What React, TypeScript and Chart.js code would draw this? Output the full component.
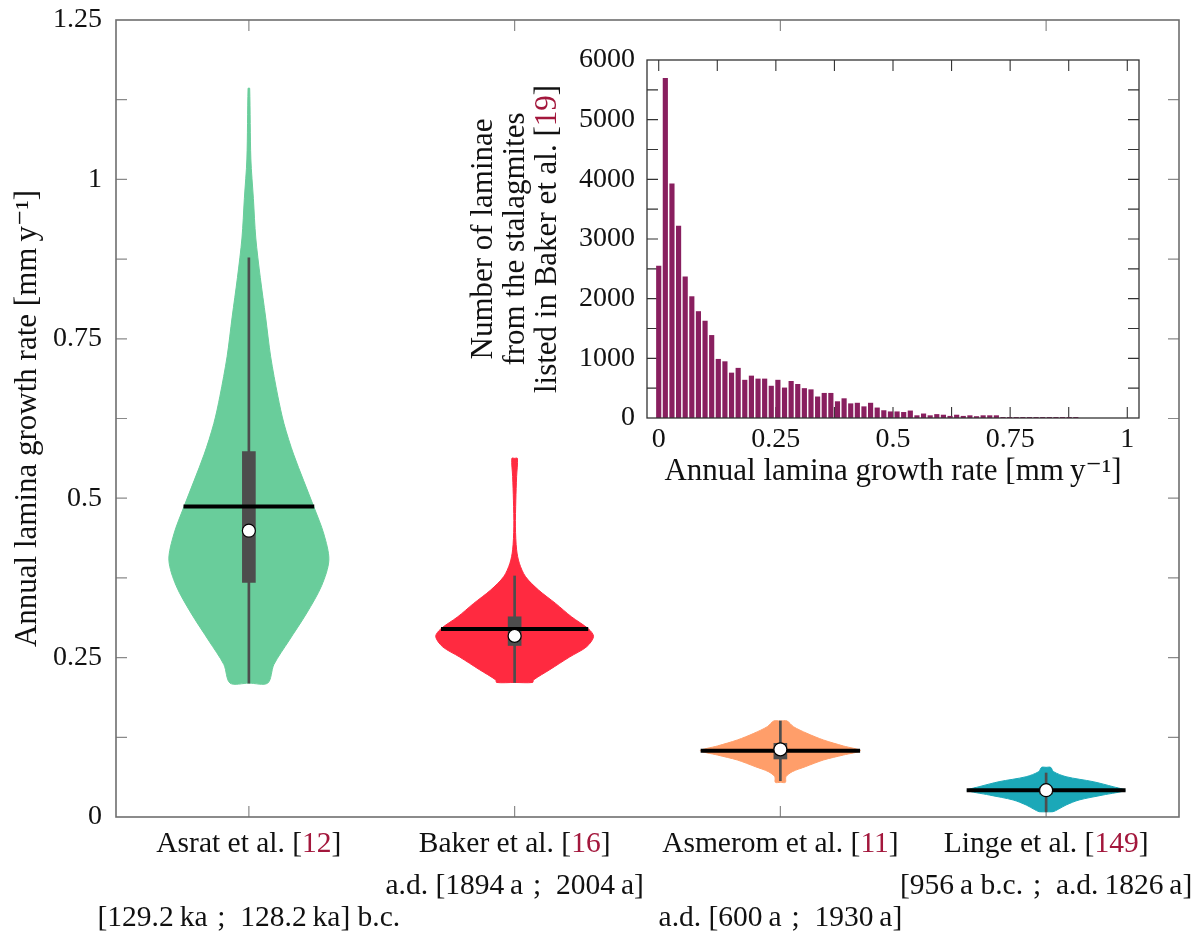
import React, { useEffect, useRef } from 'react';
import { Chart, registerables } from 'chart.js';

Chart.register(...registerables);

const FONT_FAMILY = '"Liberation Serif", "Times New Roman", "DejaVu Serif", serif';
const TICK_FONT_SIZE = 28;
const LABEL_FONT_SIZE = 29.5;
const TITLE_FONT_SIZE = 31;
const TEXT_COLOR = '#111111';
const REF_COLOR = '#a3173c';

// ---------- main chart: categories ----------
const categoryPositions = [1, 2, 3, 4];
const categoryNames = ['Asrat et al.', 'Baker et al.', 'Asmerom et al.', 'Linge et al.'];
const referenceNumbers = ['12', '16', '11', '149'];
const periodLabels = [
  '[129.2\u2009ka\u2004;\u2002128.2\u2009ka] b.c.',
  'a.d. [1894\u2009a\u2004;\u20022004\u2009a]',
  'a.d. [600\u2009a\u2004;\u20021930\u2009a]',
  '[956\u2009a b.c.\u2004;\u2002a.d.\u20091826\u2009a]',
];
const periodRows = [2, 1, 2, 1];
const violinColors = ['#69cd9b', '#ff2a40', '#ff9e6a', '#1ba8b8'];
const yTickLabels = ['0', '0.25', '0.5', '0.75', '1', '1.25'];
const yTitle = 'Annual lamina growth rate [mm\u2009y\u207B\u00B9]';

// ---------- violin profiles (value, half width in category units) ----------
const asratValues = [1.143, 1.032, 0.970, 0.908, 0.846, 0.784, 0.722, 0.660, 0.617, 0.568, 0.487, 0.444, 0.403, 0.363, 0.320, 0.276, 0.239, 0.210];
const asratHalfWidths = [0.003, 0.0075, 0.017, 0.026, 0.043, 0.063, 0.082, 0.109, 0.132, 0.169, 0.244, 0.282, 0.301, 0.274, 0.218, 0.150, 0.094, 0.071];

const bakerValues = [0.5625, 0.534, 0.497, 0.455, 0.419, 0.398, 0.377, 0.356, 0.335, 0.314, 0.295, 0.283, 0.267, 0.251, 0.231, 0.215, 0.211];
const bakerHalfWidths = [0.0105, 0.0075, 0.0045, 0.003, 0.0075, 0.0177, 0.041, 0.090, 0.154, 0.214, 0.278, 0.297, 0.271, 0.207, 0.132, 0.071, 0.068];

const asmeromValues = [0.1506, 0.1417, 0.1312, 0.1208, 0.1114, 0.1040, 0.0972, 0.0894, 0.0789, 0.0711, 0.0632, 0.0544];
const asmeromHalfWidths = [0.025, 0.049, 0.100, 0.162, 0.237, 0.301, 0.237, 0.162, 0.094, 0.045, 0.021, 0.019];

const lingeValues = [0.0779, 0.0711, 0.0632, 0.0554, 0.0475, 0.0418, 0.0345, 0.0267, 0.0188, 0.0120, 0.0083];
const lingeHalfWidths = [0.017, 0.028, 0.075, 0.177, 0.252, 0.297, 0.214, 0.124, 0.075, 0.045, 0.026];

// ---------- summary statistics ----------
const medians = [0.449, 0.284, 0.106, 0.042];
const means = [0.487, 0.295, 0.104, 0.042];
const meanHalfWidths = [0.246, 0.277, 0.300, 0.299];
const boxLow = [0.368, 0.269, 0.091, 0.036];
const boxHigh = [0.573, 0.314, 0.1155, 0.047];
const whiskerLow = [0.210, 0.211, 0.057, 0.008];
const whiskerHigh = [0.877, 0.378, 0.1506, 0.069];

// ---------- inset histogram ----------
const histBinWidth = 0.01413;
const histCounts = [
  2550, 5700, 3930, 3220, 2370, 2040, 1790, 1630, 1390, 990,
  950, 760, 840, 640, 710, 660, 660, 540, 640, 510,
  620, 570, 500, 480, 360, 420, 420, 280, 330, 245,
  255, 195, 255, 175, 130, 110, 110, 100, 125, 45,
  75, 45, 65, 55, 35, 55, 35, 45, 30, 45,
  45, 45, 15, 15, 10, 10, 10, 6, 6, 3,
  10, 3, 10, 10,
];
const histColor = '#891f5f';
const insetXTickLabels = ['0', '0.25', '0.5', '0.75', '1'];
const insetYTitleLines = ['Number of laminae', 'from the stalagmites', 'listed in Baker et al. ['];
const insetYTitleRef = '19';
const insetXTitle = 'Annual lamina growth rate [mm\u2009y\u207B\u00B9]';

const violinValueSets = [asratValues, bakerValues, asmeromValues, lingeValues];
const violinWidthSets = [asratHalfWidths, bakerHalfWidths, asmeromHalfWidths, lingeHalfWidths];

function violinOutline(center: number, vals: number[], widths: number[]) {
  const right = vals.map((v, k) => ({ x: center + widths[k], y: v }));
  const left = vals.map((v, k) => ({ x: center - widths[k], y: v })).reverse();
  return [
    { x: center, y: vals[0] },
    ...right,
    { x: center, y: vals[vals.length - 1] },
    ...left,
    { x: center, y: vals[0] },
  ];
}

function drawRich(ctx: CanvasRenderingContext2D, parts: [string, string][], cx: number, cy: number) {
  const widths = parts.map((p) => ctx.measureText(p[0]).width);
  const total = widths.reduce((a, b) => a + b, 0);
  let x = cx - total / 2;
  ctx.textAlign = 'left';
  ctx.textBaseline = 'middle';
  parts.forEach((p, i) => {
    ctx.fillStyle = p[1];
    ctx.fillText(p[0], x, cy);
    x += widths[i];
  });
}

function isMultiple(v: number, step: number) {
  return Math.abs(v / step - Math.round(v / step)) < 1e-6;
}

function makeFramePlugin(id: string, cfg: any) {
  return {
    id,
    beforeDatasetsDraw(chart: any) {
      const { ctx, chartArea: a } = chart;
      const xs = chart.scales.x;
      const ys = chart.scales.y;
      const L = cfg.tickLength;
      ctx.save();
      ctx.beginPath();
      ctx.strokeStyle = cfg.tickColor;
      ctx.lineWidth = cfg.tickWidth;
      xs.ticks.forEach((t: any) => {
        if (t.value <= xs.min + 1e-9 || t.value >= xs.max - 1e-9) return;
        const p = xs.getPixelForValue(t.value);
        ctx.moveTo(p, a.top);
        ctx.lineTo(p, a.top + L);
        ctx.moveTo(p, a.bottom);
        ctx.lineTo(p, a.bottom - L);
      });
      ys.ticks.forEach((t: any) => {
        if (t.value <= ys.min + 1e-9 || t.value >= ys.max - 1e-9) return;
        const p = ys.getPixelForValue(t.value);
        ctx.moveTo(a.left, p);
        ctx.lineTo(a.left + L, p);
        ctx.moveTo(a.right, p);
        ctx.lineTo(a.right - L, p);
      });
      ctx.stroke();
      ctx.restore();
    },
    afterDatasetsDraw(chart: any) {
      const { ctx, chartArea: a } = chart;
      ctx.save();
      ctx.strokeStyle = cfg.frameColor;
      ctx.lineWidth = cfg.frameWidth;
      ctx.strokeRect(a.left, a.top, a.right - a.left, a.bottom - a.top);
      ctx.restore();
    },
  };
}

const mainTextPlugin = {
  id: 'mainText',
  afterDraw(chart: any) {
    const { ctx, chartArea: a } = chart;
    const xs = chart.scales.x;
    ctx.save();
    ctx.font = `${LABEL_FONT_SIZE}px ${FONT_FAMILY}`;
    categoryNames.forEach((name, i) => {
      const cx = xs.getPixelForValue(categoryPositions[i]);
      drawRich(ctx, [[name + ' [', TEXT_COLOR], [referenceNumbers[i], REF_COLOR], [']', TEXT_COLOR]], cx, a.bottom + 27);
      drawRich(ctx, [[periodLabels[i], TEXT_COLOR]], cx, a.bottom + (periodRows[i] === 1 ? 69 : 101));
    });
    ctx.font = `${TITLE_FONT_SIZE}px ${FONT_FAMILY}`;
    ctx.translate(a.left - 88, (a.top + a.bottom) / 2);
    ctx.rotate(-Math.PI / 2);
    drawRich(ctx, [[yTitle, TEXT_COLOR]], 0, 0);
    ctx.restore();
  },
};

const insetTextPlugin = {
  id: 'insetText',
  afterDraw(chart: any) {
    const { ctx, chartArea: a } = chart;
    ctx.save();
    ctx.font = `${TITLE_FONT_SIZE}px ${FONT_FAMILY}`;
    drawRich(ctx, [[insetXTitle, TEXT_COLOR]], (a.left + a.right) / 2, a.bottom + 54);
    const cy = (a.top + a.bottom) / 2;
    const offsets = [-163, -131, -99];
    insetYTitleLines.forEach((line, i) => {
      ctx.save();
      ctx.translate(a.left + offsets[i], cy);
      ctx.rotate(-Math.PI / 2);
      const parts: [string, string][] = i === insetYTitleLines.length - 1
        ? [[line, TEXT_COLOR], [insetYTitleRef, REF_COLOR], [']', TEXT_COLOR]]
        : [[line, TEXT_COLOR]];
      drawRich(ctx, parts, 0, 0);
      ctx.restore();
    });
    ctx.restore();
  },
};

function buildMainConfig(): any {
  const datasets: any[] = [];
  violinValueSets.forEach((vals, i) => {
    datasets.push({
      type: 'line',
      data: violinOutline(categoryPositions[i], vals, violinWidthSets[i]),
      backgroundColor: violinColors[i],
      borderColor: violinColors[i],
      borderWidth: 1,
      pointRadius: 0,
      fill: 'shape',
      tension: 0.3,
      order: 50,
    });
  });
  datasets.push({
    type: 'bar',
    data: whiskerLow.map((lo, i) => ({ x: categoryPositions[i], y: [lo, whiskerHigh[i]] })),
    backgroundColor: '#4d4d4d',
    barThickness: 2,
    grouped: false,
    order: 40,
  });
  datasets.push({
    type: 'bar',
    data: boxLow.map((lo, i) => ({ x: categoryPositions[i], y: [lo, boxHigh[i]] })),
    backgroundColor: '#4d4d4d',
    barThickness: 13,
    grouped: false,
    order: 30,
  });
  means.forEach((m, i) => {
    datasets.push({
      type: 'line',
      data: [{ x: categoryPositions[i] - meanHalfWidths[i], y: m }, { x: categoryPositions[i] + meanHalfWidths[i], y: m }],
      borderColor: '#000000',
      borderWidth: 4,
      pointRadius: 0,
      fill: false,
      order: 20,
    });
  });
  datasets.push({
    type: 'line',
    data: medians.map((m, i) => ({ x: categoryPositions[i], y: m })),
    showLine: false,
    pointRadius: 6.5,
    pointBackgroundColor: '#ffffff',
    pointBorderColor: '#000000',
    pointBorderWidth: 1.2,
    order: 10,
  });

  return {
    type: 'line',
    data: { datasets },
    options: {
      animation: false,
      responsive: false,
      maintainAspectRatio: false,
      layout: { padding: { left: 0, top: 20, right: 13, bottom: 0 } },
      plugins: { legend: { display: false }, tooltip: { enabled: false } },
      scales: {
        x: {
          type: 'linear',
          min: 0.5,
          max: 4.5,
          offset: false,
          ticks: { display: false },
          grid: { display: false, drawTicks: false },
          border: { display: false },
          afterBuildTicks: (s: any) => { s.ticks = categoryPositions.map((v) => ({ value: v })); },
          afterFit: (s: any) => { s.height = 119; s.paddingLeft = 0; s.paddingRight = 0; },
        },
        y: {
          type: 'linear',
          min: 0,
          max: 1.25,
          ticks: {
            stepSize: 0.125,
            autoSkip: false,
            padding: 14,
            color: TEXT_COLOR,
            font: { family: FONT_FAMILY, size: TICK_FONT_SIZE },
            callback: (v: number) => (isMultiple(v, 0.25) ? yTickLabels[Math.round(v / 0.25)] : ''),
          },
          grid: { display: false, drawTicks: false },
          border: { display: false },
          afterFit: (s: any) => { s.width = 116; s.paddingTop = 0; s.paddingBottom = 0; },
        },
      },
    },
    plugins: [
      makeFramePlugin('mainFrame', { frameColor: '#6e6e6e', frameWidth: 1.6, tickColor: '#8a8a8a', tickWidth: 1.2, tickLength: 11 }),
      mainTextPlugin,
    ],
  };
}

function buildInsetConfig(): any {
  return {
    type: 'bar',
    data: {
      datasets: [
        {
          data: histCounts.map((c, k) => ({ x: k * histBinWidth, y: c })),
          backgroundColor: histColor,
          barPercentage: 0.78,
          categoryPercentage: 1,
          minBarLength: 1,
        },
      ],
    },
    options: {
      animation: false,
      responsive: false,
      maintainAspectRatio: false,
      layout: { padding: { left: 0, top: 20, right: 21, bottom: 0 } },
      plugins: { legend: { display: false }, tooltip: { enabled: false } },
      scales: {
        x: {
          type: 'linear',
          min: -0.025,
          max: 1.025,
          offset: false,
          ticks: {
            stepSize: 0.125,
            includeBounds: false,
            autoSkip: false,
            maxRotation: 0,
            padding: 5,
            color: TEXT_COLOR,
            font: { family: FONT_FAMILY, size: TICK_FONT_SIZE },
            callback: (v: number) => (isMultiple(v, 0.25) ? insetXTickLabels[Math.round(v / 0.25)] : ''),
          },
          grid: { display: false, drawTicks: false },
          border: { display: false },
          afterFit: (s: any) => { s.height = 82; s.paddingLeft = 0; s.paddingRight = 0; },
        },
        y: {
          type: 'linear',
          min: 0,
          max: 6000,
          ticks: {
            stepSize: 500,
            autoSkip: false,
            padding: 12,
            color: TEXT_COLOR,
            font: { family: FONT_FAMILY, size: TICK_FONT_SIZE },
            callback: (v: number) => (isMultiple(v, 1000) ? String(v) : ''),
          },
          grid: { display: false, drawTicks: false },
          border: { display: false },
          afterFit: (s: any) => { s.width = 187; s.paddingTop = 0; s.paddingBottom = 0; },
        },
      },
    },
    plugins: [
      makeFramePlugin('insetFrame', { frameColor: '#333333', frameWidth: 1.3, tickColor: '#333333', tickWidth: 1.1, tickLength: 11 }),
      insetTextPlugin,
    ],
  };
}

export default function App() {
  const mainRef = useRef<HTMLCanvasElement>(null);
  const insetRef = useRef<HTMLCanvasElement>(null);

  useEffect(() => {
    const main = new Chart(mainRef.current as HTMLCanvasElement, buildMainConfig());
    const inset = new Chart(insetRef.current as HTMLCanvasElement, buildInsetConfig());
    return () => {
      main.destroy();
      inset.destroy();
    };
  }, []);

  return (
    <div style={{ position: 'absolute', left: 0, top: 0, width: 1192, height: 936, background: '#ffffff', overflow: 'hidden' }}>
      <canvas ref={mainRef} width={1192} height={936} style={{ position: 'absolute', left: 0, top: 0, width: 1192, height: 936 }} />
      <canvas ref={insetRef} width={700} height={460} style={{ position: 'absolute', left: 460, top: 40, width: 700, height: 460 }} />
    </div>
  );
}
